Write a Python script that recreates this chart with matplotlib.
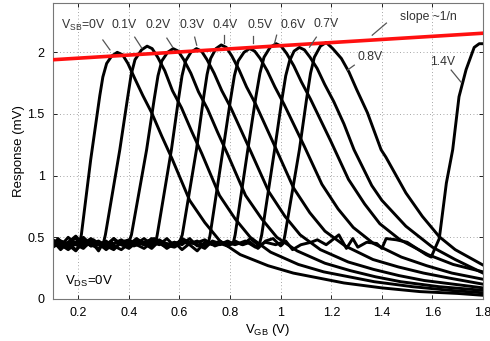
import matplotlib
matplotlib.use("Agg")
import matplotlib.pyplot as plt

plt.rcParams['font.family'] = ['Liberation Sans', 'DejaVu Sans']
plt.rcParams['mathtext.default'] = 'regular'

# response curves, one per V_SB value (V_GB in V, response in mV)
x_00 = [0.10, 0.12, 0.15, 0.17, 0.19, 0.205, 0.212, 0.249, 0.285, 0.297, 0.312, 0.332, 0.354, 0.375,
        0.396, 0.425, 0.455, 0.49, 0.53, 0.57, 0.64, 0.70, 0.76, 0.84, 0.95, 1.05, 1.15, 1.25, 1.40,
        1.55, 1.70, 1.80]
y_00 = [0.44, 0.49, 0.42, 0.47, 0.45, 0.46, 0.52, 1.13, 1.65, 1.80, 1.91, 1.97, 2.00, 1.98,
        1.91, 1.78, 1.65, 1.51, 1.32, 1.14, 0.80, 0.62, 0.47, 0.36, 0.27, 0.21, 0.17, 0.13, 0.09,
        0.06, 0.045, 0.03]

x_01 = [0.10, 0.13, 0.16, 0.19, 0.22, 0.25, 0.28, 0.30, 0.307, 0.364, 0.394, 0.409, 0.424, 0.45,
        0.472, 0.492, 0.514, 0.542, 0.572, 0.608, 0.648, 0.688, 0.758, 0.82, 0.88, 0.96, 1.07,
        1.17, 1.27, 1.37, 1.52, 1.67, 1.80]
y_01 = [0.47, 0.40, 0.46, 0.51, 0.44, 0.47, 0.39, 0.46, 0.52, 1.21, 1.62, 1.82, 1.94, 2.02,
        2.05, 2.03, 1.96, 1.85, 1.69, 1.55, 1.36, 1.18, 0.84, 0.65, 0.50, 0.38, 0.28,
        0.22, 0.18, 0.14, 0.10, 0.07, 0.05]

x_02 = [0.10, 0.13, 0.16, 0.19, 0.22, 0.25, 0.28, 0.31, 0.34, 0.37, 0.40, 0.41, 0.47, 0.50,
        0.515, 0.53, 0.553, 0.575, 0.595, 0.617, 0.645, 0.675, 0.711, 0.751, 0.791, 0.861, 0.925,
        0.985, 1.065, 1.175, 1.275, 1.375, 1.475, 1.625, 1.80]
y_02 = [0.42, 0.46, 0.44, 0.39, 0.47, 0.44, 0.46, 0.42, 0.49, 0.44, 0.46, 0.52, 1.21, 1.62,
        1.81, 1.93, 2.00, 2.03, 2.01, 1.94, 1.83, 1.68, 1.54, 1.35, 1.17, 0.84, 0.65,
        0.50, 0.39, 0.29, 0.23, 0.18, 0.14, 0.10, 0.07]

x_03 = [0.10, 0.13, 0.16, 0.19, 0.22, 0.25, 0.28, 0.31, 0.34, 0.37, 0.40, 0.43, 0.46, 0.49, 0.505,
        0.512, 0.568, 0.596, 0.61, 0.624, 0.645, 0.667, 0.687, 0.709, 0.737, 0.767, 0.803, 0.843,
        0.883, 0.953, 1.017, 1.077, 1.157, 1.267, 1.367, 1.467, 1.567, 1.80]
y_03 = [0.45, 0.43, 0.50, 0.44, 0.41, 0.47, 0.45, 0.40, 0.45, 0.48, 0.43, 0.46, 0.44, 0.47, 0.45,
        0.52, 1.21, 1.62, 1.81, 1.93, 2.00, 2.03, 2.01, 1.94, 1.83, 1.69, 1.55, 1.37,
        1.19, 0.87, 0.67, 0.52, 0.40, 0.30, 0.24, 0.19, 0.15, 0.09]

x_04 = [0.10, 0.13, 0.16, 0.19, 0.22, 0.25, 0.28, 0.31, 0.34, 0.37, 0.40, 0.43, 0.46, 0.49, 0.52,
        0.55, 0.58, 0.60, 0.611, 0.667, 0.695, 0.709, 0.723, 0.744, 0.765, 0.785, 0.807, 0.835,
        0.865, 0.901, 0.941, 0.981, 1.051, 1.115, 1.175, 1.255, 1.365, 1.465, 1.565, 1.665, 1.80]
y_04 = [0.48, 0.44, 0.41, 0.46, 0.49, 0.43, 0.44, 0.47, 0.41, 0.46, 0.48, 0.44, 0.41, 0.46, 0.44,
        0.49, 0.43, 0.46, 0.52, 1.21, 1.63, 1.82, 1.95, 2.03, 2.06, 2.04, 1.97, 1.86,
        1.72, 1.58, 1.40, 1.22, 0.90, 0.70, 0.55, 0.43, 0.32, 0.26, 0.21, 0.17, 0.12]

x_05 = [0.10, 0.13, 0.16, 0.19, 0.22, 0.25, 0.28, 0.31, 0.34, 0.37, 0.40, 0.43, 0.46, 0.49, 0.52,
        0.55, 0.58, 0.61, 0.64, 0.67, 0.70, 0.715, 0.721, 0.772, 0.802, 0.817, 0.832, 0.855, 0.877,
        0.897, 0.919, 0.947, 0.977, 1.013, 1.053, 1.093, 1.163, 1.227, 1.287, 1.367, 1.477, 1.577,
        1.677, 1.80]
y_05 = [0.43, 0.47, 0.45, 0.40, 0.45, 0.49, 0.44, 0.46, 0.43, 0.40, 0.45, 0.47, 0.44, 0.49, 0.45,
        0.42, 0.46, 0.44, 0.49, 0.43, 0.45, 0.46, 0.52, 1.21, 1.62, 1.81, 1.93, 2.00, 2.03,
        2.01, 1.95, 1.85, 1.72, 1.58, 1.41, 1.24, 0.93, 0.73, 0.58, 0.45, 0.34, 0.27,
        0.21, 0.16]

x_06 = [0.10, 0.13, 0.16, 0.19, 0.22, 0.25, 0.28, 0.31, 0.34, 0.37, 0.40, 0.43, 0.46, 0.49, 0.52,
        0.55, 0.58, 0.61, 0.64, 0.67, 0.70, 0.73, 0.76, 0.79, 0.812, 0.82, 0.87, 0.902, 0.918,
        0.934, 0.958, 0.982, 1.002, 1.024, 1.052, 1.082, 1.118, 1.158, 1.198, 1.268, 1.332, 1.392,
        1.472, 1.582, 1.682, 1.80]
y_06 = [0.46, 0.44, 0.40, 0.45, 0.47, 0.43, 0.46, 0.44, 0.49, 0.44, 0.41, 0.46, 0.45, 0.43, 0.48,
        0.44, 0.46, 0.40, 0.45, 0.47, 0.43, 0.46, 0.44, 0.47, 0.45, 0.52, 1.21, 1.64, 1.83,
        1.96, 2.04, 2.07, 2.05, 1.99, 1.89, 1.76, 1.62, 1.45, 1.28, 0.97, 0.77, 0.61,
        0.48, 0.36, 0.28, 0.22]

x_07 = [0.10, 0.13, 0.16, 0.19, 0.22, 0.25, 0.28, 0.31, 0.34, 0.37, 0.40, 0.43, 0.46, 0.49, 0.52,
        0.55, 0.58, 0.61, 0.64, 0.67, 0.70, 0.73, 0.76, 0.79, 0.82, 0.85, 0.88, 0.91, 0.918, 0.925,
        0.976, 1.005, 1.02, 1.035, 1.053, 1.074, 1.094, 1.116, 1.144, 1.174, 1.21, 1.25, 1.29,
        1.36, 1.40, 1.495, 1.60, 1.69, 1.80]
y_07 = [0.44, 0.47, 0.43, 0.45, 0.50, 0.44, 0.41, 0.46, 0.45, 0.47, 0.43, 0.45, 0.49, 0.44, 0.46,
        0.41, 0.45, 0.47, 0.44, 0.39, 0.46, 0.44, 0.47, 0.43, 0.46, 0.44, 0.49, 0.44, 0.46, 0.52,
        1.21, 1.62, 1.81, 1.93, 2.01, 2.04, 2.02, 1.96, 1.87, 1.74, 1.60, 1.42, 1.21,
        0.92, 0.80, 0.59, 0.42, 0.32, 0.21]

x_08 = [0.10, 0.13, 0.16, 0.19, 0.22, 0.25, 0.28, 0.31, 0.34, 0.37, 0.40, 0.43, 0.46, 0.49, 0.52,
        0.55, 0.58, 0.61, 0.64, 0.67, 0.70, 0.73, 0.76, 0.79, 0.82, 0.85, 0.88, 0.91, 0.94, 0.97,
        1.00, 1.01, 1.017, 1.074, 1.103, 1.118, 1.133, 1.157, 1.18, 1.206, 1.24, 1.27, 1.30, 1.343,
        1.397, 1.416, 1.495, 1.56, 1.627, 1.69, 1.80]
y_08 = [0.45, 0.42, 0.46, 0.49, 0.43, 0.45, 0.47, 0.43, 0.40, 0.46, 0.44, 0.49, 0.45, 0.41, 0.47,
        0.45, 0.43, 0.49, 0.46, 0.44, 0.41, 0.47, 0.45, 0.43, 0.47, 0.44, 0.46, 0.41, 0.47, 0.49,
        0.43, 0.45, 0.52, 1.21, 1.63, 1.83, 1.96, 2.05, 2.08, 2.03, 1.95, 1.84, 1.70, 1.51,
        1.21, 1.15, 0.86, 0.67, 0.505, 0.40, 0.275]

x_14 = [0.10, 0.14, 0.18, 0.22, 0.26, 0.30, 0.34, 0.38, 0.42, 0.46, 0.50, 0.54, 0.58, 0.62, 0.66,
        0.70, 0.74, 0.78, 0.82, 0.86, 0.90, 0.94, 0.98, 1.02, 1.047, 1.08, 1.12, 1.145, 1.18, 1.23,
        1.26, 1.285, 1.305, 1.34, 1.38, 1.40, 1.417, 1.457, 1.50, 1.575, 1.595, 1.627, 1.655, 1.68,
        1.705, 1.733, 1.765, 1.785, 1.80]
y_14 = [0.47, 0.43, 0.46, 0.44, 0.48, 0.42, 0.45, 0.47, 0.43, 0.46, 0.49, 0.44, 0.42, 0.47, 0.45,
        0.48, 0.43, 0.46, 0.44, 0.47, 0.42, 0.46, 0.44, 0.47, 0.40, 0.44, 0.46, 0.48, 0.44, 0.52,
        0.41, 0.49, 0.42, 0.46, 0.45, 0.41, 0.49, 0.48, 0.46, 0.36, 0.34, 0.49, 0.94, 1.21,
        1.64, 1.86, 2.04, 2.07, 2.07]

curves_x = [x_00, x_01, x_02, x_03, x_04, x_05, x_06, x_07, x_08, x_14]
curves_y = [y_00, y_01, y_02, y_03, y_04, y_05, y_06, y_07, y_08, y_14]

# peak envelope (red line)
env_x = [0.1, 1.8]
env_y = [1.94, 2.155]

x_ticks = [0.2, 0.4, 0.6, 0.8, 1.0, 1.2, 1.4, 1.6, 1.8]
x_tick_labels = ['0.2', '0.4', '0.6', '0.8', '1', '1.2', '1.4', '1.6', '1.8']
y_ticks = [0, 0.5, 1, 1.5, 2]
y_tick_labels = ['0', '0.5', '1', '1.5', '2']

# labels: text, text position, pointer start, pointer end
labels = [
    ('V$_{SB}$=0V', (0.22, 2.22), (0.297, 2.10), (0.325, 2.02)),
    ('0.1V', (0.38, 2.22), (0.423, 2.123), (0.451, 2.034)),
    ('0.2V', (0.514, 2.22), (0.55, 2.115), (0.573, 2.042)),
    ('0.3V', (0.648, 2.22), (0.66, 2.123), (0.668, 2.058)),
    ('0.4V', (0.782, 2.22), (0.775, 2.139), (0.775, 2.075)),
    ('0.5V', (0.917, 2.22), (0.889, 2.131), (0.889, 2.075)),
    ('0.6V', (1.047, 2.22), (0.984, 2.139), (0.976, 2.075)),
    ('0.7V', (1.181, 2.23), (1.141, 2.123), (1.114, 2.042)),
    ('0.8V', (1.354, 1.96), (1.291, 1.896), (1.264, 1.856)),
    ('1.4V', (1.642, 1.92), (1.674, 1.856), (1.713, 1.758)),
    ('slope ~1/n', (1.583, 2.285), (1.418, 2.237), (1.362, 2.139)),
]

fig = plt.figure(figsize=(4.9, 3.41), dpi=100)
ax = fig.add_axes([0.1082, 0.1232, 0.8776, 0.868])

for cx, cy in zip(curves_x, curves_y):
    ax.plot(cx, cy, color='black', lw=2.1, solid_joinstyle='round', zorder=2)

ax.plot(env_x, env_y, color='#ff1010', lw=2.6, zorder=3)

for text, pos, p0, p1 in labels:
    ax.text(pos[0], pos[1], text, ha='center', va='center', fontsize=8.8, color='#333333', zorder=4)
    ax.plot([p0[0], p1[0]], [p0[1], p1[1]], color='#555555', lw=0.9, zorder=4)

ax.text(0.147, 0.14, 'V$_{DS}$=0V', ha='left', va='center', fontsize=9.5, color='black')

ax.set_xlim(0.1, 1.8)
ax.set_ylim(0, 2.4)
ax.set_xticks(x_ticks)
ax.set_xticklabels(x_tick_labels)
ax.set_yticks(y_ticks)
ax.set_yticklabels(y_tick_labels)
ax.tick_params(direction='in', length=3, width=0.6, top=True, right=True, labelsize=9, pad=6)
ax.grid(True, color='#888888', linestyle=(0, (1, 3)), lw=0.6)
for s in ax.spines.values():
    s.set_color('#777777')
    s.set_linewidth(0.8)

ax.set_xlabel('V$_{GB}$ (V)', fontsize=9.5, labelpad=2)
ax.set_ylabel('Response (mV)', fontsize=9.5, labelpad=2)

fig.savefig('out.png', dpi=100)
